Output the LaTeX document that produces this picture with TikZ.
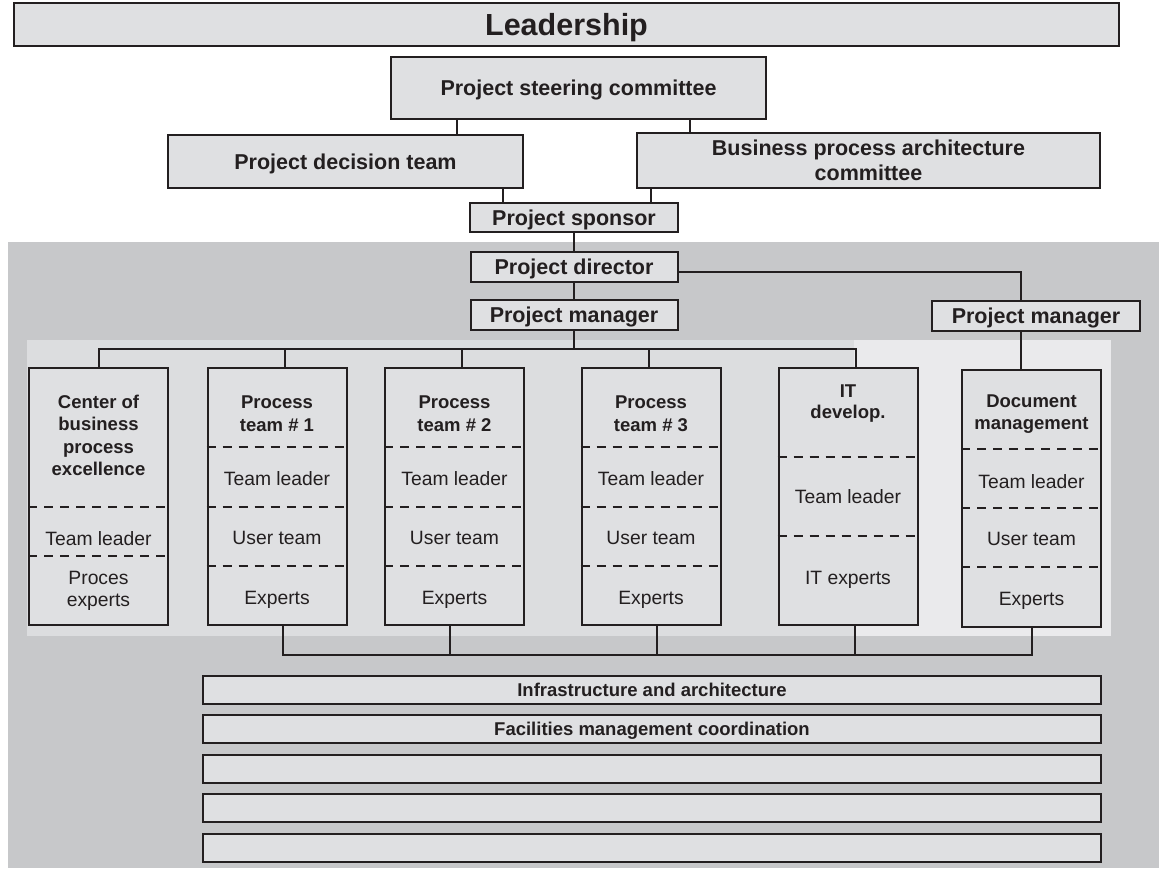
\documentclass[tikz,border=0pt]{standalone}
\usepackage{fontspec}
\setmainfont{Liberation Sans}
\usepackage{xcolor}
\usetikzlibrary{positioning}

\definecolor{ink}{HTML}{231F20}
\definecolor{boxfill}{HTML}{DFE0E2}
\definecolor{bggray}{HTML}{C7C8CA}
\definecolor{panela}{HTML}{DCDDDF}
\definecolor{panelb}{HTML}{EAEAEC}

\begin{document}
\begin{tikzpicture}[x=1pt, y=-1pt,
  box/.style={rectangle, draw=ink, line width=2pt, fill=boxfill, inner sep=0pt,
              align=center, text=ink},
  head/.style={box, text depth=0pt, font=\fontsize{21.5}{25}\selectfont\bfseries},
  col/.style={box, minimum width=139pt, minimum height=257pt},
  ttl/.style={inner sep=0pt, align=center, text=ink,
              font=\fontsize{18.5}{22.5}\selectfont\bfseries},
  cell/.style={inner sep=0pt, align=center, text=ink, text depth=0pt,
               font=\fontsize{19.3}{22.5}\selectfont},
  bar/.style={box, minimum width=898pt, minimum height=28pt, text depth=0pt,
              font=\fontsize{18.5}{20}\selectfont\bfseries},
  divider/.style={draw=ink, line width=2pt, dash pattern=on 9pt off 7pt},
  link/.style={draw=ink, line width=2pt}
]
\useasboundingbox (0,0) rectangle (1159,868);
\fill[white] (0,0) rectangle (1159,868);

% backgrounds
\fill[bggray] (8,242) rectangle (1159,868);
\fill[panela] (27,340) rectangle (854,636);
\fill[panelb] (854,340) rectangle (1111,636);

% leadership level
\node[box, minimum width=1105pt, minimum height=43pt, text depth=0pt,
      font=\fontsize{30.5}{34}\selectfont\bfseries] (lead) at (566.5,24.5) {Leadership};
\node[head, minimum width=375pt, minimum height=62pt] (steer) at (578.5,88) {Project steering committee};
\node[head, minimum width=355pt, minimum height=53pt] (dec) at (345.5,161.5) {Project decision team};
\node[head, minimum width=463pt, minimum height=55pt] (bpa) at (868.5,160.5) {Business process architecture\\committee};
\node[head, minimum width=208pt, minimum height=29pt] (spon) at (574,217.5) {Project sponsor};

% project level
\node[head, minimum width=207pt, minimum height=30pt] (dir) at (574,267) {Project director};
\node[head, minimum width=207pt, minimum height=30pt] (pm) at (574,315) {Project manager};
\node[head, minimum width=208pt, minimum height=30pt] (pmdoc) at (1036,316) {Project manager};

% team columns
\node[col] (cbpe) at (98.5,496.5) {};
\node[col] (p1) at (277,496.5) {};
\node[col] (p2) at (454.5,496.5) {};
\node[col] (p3) at (651,496.5) {};
\node[col] (it) at (848,496.5) {};
\node[col] (doc) at (1031.5,498.5) {};

\node[ttl] (cbpe-t) at (98.5,435.5) {Center of\\business\\process\\excellence};
\node[cell] (cbpe-l) at (98.5,538) {Team leader};
\node[cell] (cbpe-e) at (98.5,589) {Proces\\experts};

\node[ttl] (p1-t) at (277,413.5) {Process\\team \# 1};
\node[cell] (p1-l) at (277,478) {Team leader};
\node[cell] (p1-u) at (277,538) {User team};
\node[cell] (p1-e) at (277,598) {Experts};

\node[ttl] (p2-t) at (454.5,413.5) {Process\\team \# 2};
\node[cell] (p2-l) at (454.5,478) {Team leader};
\node[cell] (p2-u) at (454.5,538) {User team};
\node[cell] (p2-e) at (454.5,598) {Experts};

\node[ttl] (p3-t) at (651,413.5) {Process\\team \# 3};
\node[cell] (p3-l) at (651,478) {Team leader};
\node[cell] (p3-u) at (651,538) {User team};
\node[cell] (p3-e) at (651,598) {Experts};

\node[ttl, font=\fontsize{18.5}{21}\selectfont\bfseries] (it-t) at (848,403.5) {IT\\develop.};
\node[cell] (it-l) at (848,496) {Team leader};
\node[cell] (it-e) at (848,578) {IT experts};

\node[ttl] (doc-t) at (1031.5,414) {Document\\management};
\node[cell] (doc-l) at (1031.5,481) {Team leader};
\node[cell] (doc-u) at (1031.5,539) {User team};
\node[cell] (doc-e) at (1031.5,599) {Experts};

% dividers
\draw[divider] (cbpe.west |- 0,507) -- (cbpe.east |- 0,507);
\draw[divider] (cbpe.west |- 0,556) -- (cbpe.east |- 0,556);
\draw[divider] (p1.west |- 0,447) -- (p1.east |- 0,447);
\draw[divider] (p1.west |- 0,507) -- (p1.east |- 0,507);
\draw[divider] (p1.west |- 0,566) -- (p1.east |- 0,566);
\draw[divider] (p2.west |- 0,447) -- (p2.east |- 0,447);
\draw[divider] (p2.west |- 0,507) -- (p2.east |- 0,507);
\draw[divider] (p2.west |- 0,566) -- (p2.east |- 0,566);
\draw[divider] (p3.west |- 0,447) -- (p3.east |- 0,447);
\draw[divider] (p3.west |- 0,507) -- (p3.east |- 0,507);
\draw[divider] (p3.west |- 0,566) -- (p3.east |- 0,566);
\draw[divider] (it.west |- 0,457) -- (it.east |- 0,457);
\draw[divider] (it.west |- 0,536) -- (it.east |- 0,536);
\draw[divider] (doc.west |- 0,449) -- (doc.east |- 0,449);
\draw[divider] (doc.west |- 0,508) -- (doc.east |- 0,508);
\draw[divider] (doc.west |- 0,567) -- (doc.east |- 0,567);

% support bars
\node[bar] (infra) at (652,689.5) {Infrastructure and architecture};
\node[bar, below=9.5pt of infra] (fac) {Facilities management coordination};
\node[bar, below=9.5pt of fac] (bar3) {};
\node[bar, below=9.5pt of bar3] (bar4) {};
\node[bar, below=9.5pt of bar4] (bar5) {};

% connectors
\coordinate (t1) at ([xshift=-121.5pt]steer.south);
\coordinate (t2) at ([xshift=111pt]steer.south);
\coordinate (t3) at ([xshift=157.5pt]dec.south);
\coordinate (t4) at ([xshift=-217.5pt]bpa.south);
\draw[link] (t1) -- (t1 |- dec.north);
\draw[link] (t2) -- (t2 |- bpa.north);
\draw[link] (t3) -- (t3 |- spon.north);
\draw[link] (t4) -- (t4 |- spon.north);
\draw[link] (spon) -- (dir);
\draw[link] (dir) -- (pm);
\draw[link] ([yshift=-5pt]dir.east) -| ([xshift=-15pt]pmdoc.north);

\coordinate (bus) at (574,349);
\draw[link] (pm.south) -- (bus);
\draw[link] (cbpe.north) |- (bus) -| ([xshift=8pt]it.north);
\draw[link] ([xshift=8pt]p1.north) -- ++(0,-19);
\draw[link] ([xshift=7.5pt]p2.north) -- ++(0,-19);
\draw[link] ([xshift=-2pt]p3.north) -- ++(0,-19);
\draw[link] ([xshift=-15pt]pmdoc.south) -- ++(0,39);

\coordinate (bot) at (0,655);
\draw[link] ([xshift=6pt]p1.south) |- (bot -| doc.south) -- (doc.south);
\draw[link] ([xshift=-4.5pt]p2.south) -- ++(0,30);
\draw[link] ([xshift=6pt]p3.south) -- ++(0,30);
\draw[link] ([xshift=6.5pt]it.south) -- ++(0,30);
\end{tikzpicture}
\end{document}
